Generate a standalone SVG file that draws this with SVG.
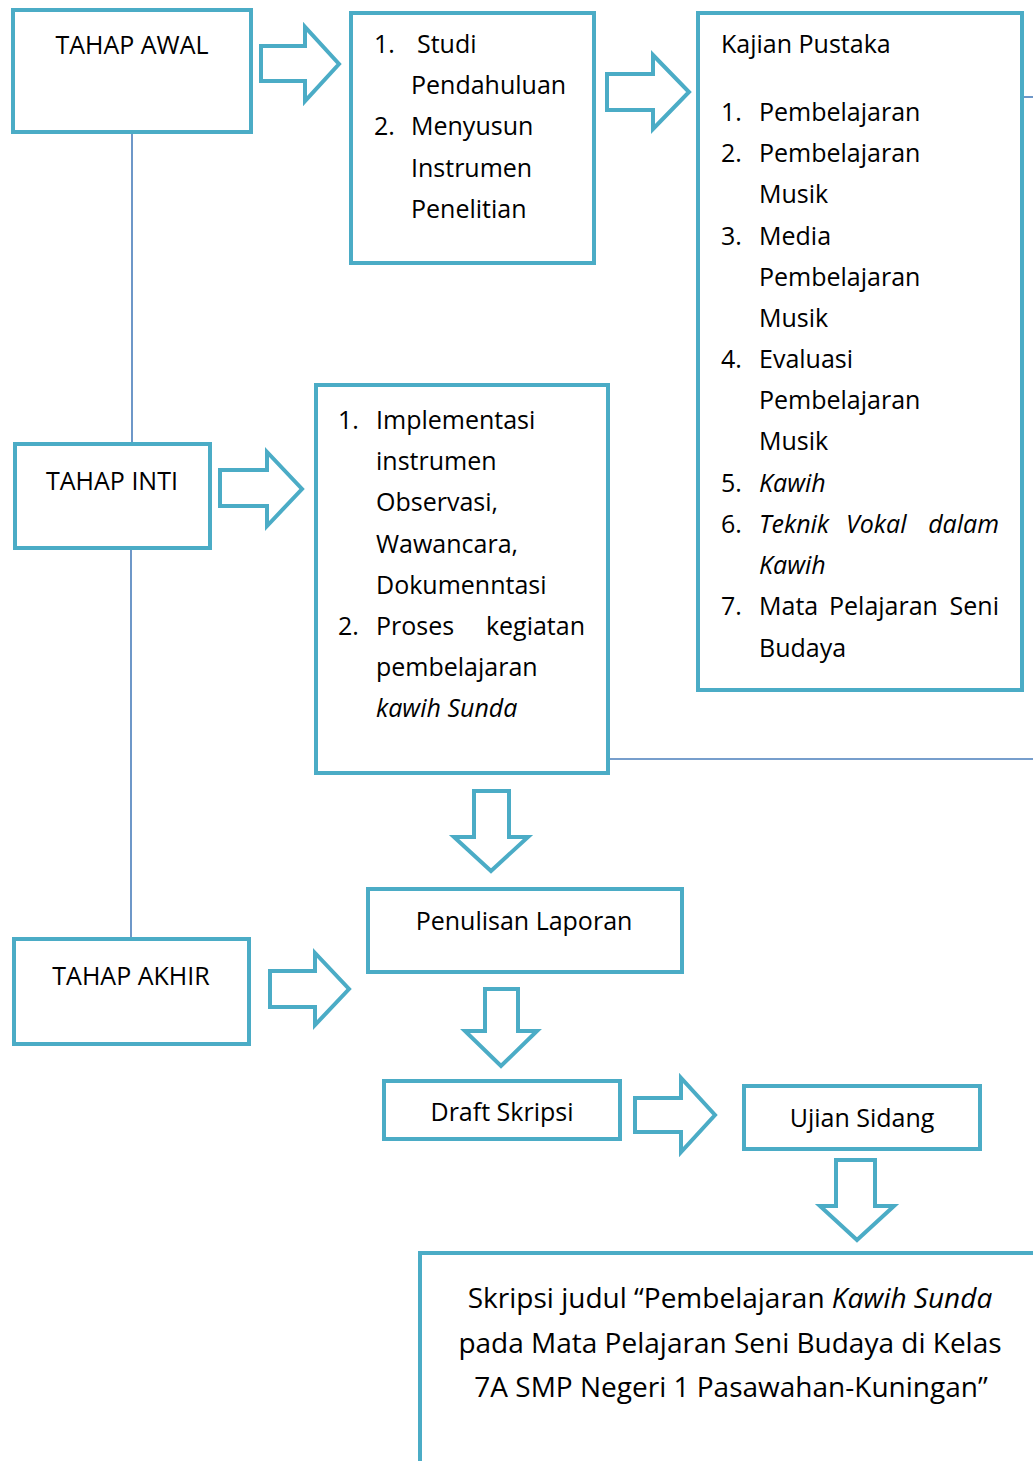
<svg xmlns="http://www.w3.org/2000/svg" width="1033" height="1461" viewBox="0 0 1033 1461">
<style>
.box{fill:#fff;stroke:#4BACC6;stroke-width:4;}
.arr{fill:#fff;stroke:#4BACC6;stroke-width:4;stroke-linejoin:miter;}
.ln{fill:none;stroke:#4A7EBB;stroke-width:1.6;}
text{font-family:"Open Sans","Noto Sans",sans-serif;font-size:25px;fill:#000;}
.c{text-anchor:middle;}
.e{text-anchor:end;}
.i{font-style:italic;}
.big{font-size:28px;}
</style>
<rect width="1033" height="1461" fill="#fff"/>
<g id="connectors">
<line class="ln" x1="132" y1="134" x2="132" y2="443"/>
<line class="ln" x1="131" y1="549" x2="131" y2="938"/>
<line class="ln" x1="1022" y1="97" x2="1033" y2="97"/>
<line class="ln" x1="610" y1="759" x2="1033" y2="759"/>
<polygon class="arr" points="261,46 305,46 305,27 339,64 305,101 305,81 261,81"/>
<polygon class="arr" points="607,74 653,74 653,55 689,92 653,129 653,110 607,110"/>
<polygon class="arr" points="220,470 267,470 267,452 302,489 267,526 267,506 220,506"/>
<polygon class="arr" points="270,971 315,971 315,953 349,989 315,1025 315,1007 270,1007"/>
<polygon class="arr" points="474,791 509,791 509,837 528,837 491,871 454,837 474,837"/>
<polygon class="arr" points="485,989 518,989 518,1031 537,1031 501,1066 465,1031 485,1031"/>
<polygon class="arr" points="635,1098 681,1098 681,1078 715,1115 681,1152 681,1132 635,1132"/>
<polygon class="arr" points="836,1160 875,1160 875,1206 894,1206 857,1240 820,1206 836,1206"/>
</g>
<g id="tahap-awal">
<rect class="box" x="13" y="10" width="238" height="122"/>
<text class="c" x="132" y="54">TAHAP AWAL</text>
</g>
<g id="studi">
<rect class="box" x="351" y="13" width="243" height="250"/>
<text x="374" y="53">1.</text><text x="417" y="53">Studi</text>
<text x="411" y="94">Pendahuluan</text>
<text x="374" y="135">2.</text><text x="411" y="135">Menyusun</text>
<text x="411" y="177">Instrumen</text>
<text x="411" y="218">Penelitian</text>
</g>
<g id="kajian-pustaka">
<rect class="box" x="698" y="13" width="324" height="677"/>
<text x="721" y="53">Kajian Pustaka</text>
<text x="721" y="121">1.</text><text x="759" y="121">Pembelajaran</text>
<text x="721" y="162">2.</text><text x="759" y="162">Pembelajaran</text>
<text x="759" y="203">Musik</text>
<text x="721" y="245">3.</text><text x="759" y="245">Media</text>
<text x="759" y="286">Pembelajaran</text>
<text x="759" y="327">Musik</text>
<text x="721" y="368">4.</text><text x="759" y="368">Evaluasi</text>
<text x="759" y="409">Pembelajaran</text>
<text x="759" y="450">Musik</text>
<text x="721" y="492">5.</text><text class="i" x="759" y="492">Kawih</text>
<text x="721" y="533">6.</text><text class="i" x="759" y="533">Teknik</text><text class="i" x="846" y="533">Vokal</text><text class="i e" x="999" y="533">dalam</text>
<text class="i" x="759" y="574">Kawih</text>
<text x="721" y="615">7.</text><text x="759" y="615">Mata</text><text x="829" y="615">Pelajaran</text><text class="e" x="999" y="615">Seni</text>
<text x="759" y="657">Budaya</text>
</g>
<g id="tahap-inti">
<rect class="box" x="15" y="444" width="195" height="104"/>
<text class="c" x="112" y="490">TAHAP INTI</text>
</g>
<g id="implementasi">
<rect class="box" x="316" y="385" width="292" height="388"/>
<text x="338" y="429">1.</text><text x="376" y="429">Implementasi</text>
<text x="376" y="470">instrumen</text>
<text x="376" y="511">Observasi,</text>
<text x="376" y="553">Wawancara,</text>
<text x="376" y="594">Dokumenntasi</text>
<text x="338" y="635">2.</text><text x="376" y="635">Proses</text><text class="e" x="585" y="635">kegiatan</text>
<text x="376" y="676">pembelajaran</text>
<text class="i" x="376" y="717">kawih Sunda</text>
</g>
<g id="tahap-akhir">
<rect class="box" x="14" y="939" width="235" height="105"/>
<text class="c" x="131" y="985">TAHAP AKHIR</text>
</g>
<g id="penulisan-laporan">
<rect class="box" x="368" y="889" width="314" height="83"/>
<text class="c" x="524" y="930">Penulisan Laporan</text>
</g>
<g id="draft-skripsi">
<rect class="box" x="384" y="1081" width="236" height="58"/>
<text class="c" x="502" y="1121">Draft Skripsi</text>
</g>
<g id="ujian-sidang">
<rect class="box" x="744" y="1086" width="236" height="63"/>
<text class="c" x="862" y="1127">Ujian Sidang</text>
</g>
<g id="skripsi-judul">
<rect class="box" x="420" y="1253" width="700" height="300"/>
<text class="c big" x="730" y="1308">Skripsi judul “Pembelajaran <tspan class="i">Kawih Sunda</tspan></text>
<text class="c big" x="730" y="1353">pada Mata Pelajaran Seni Budaya di Kelas</text>
<text class="c big" x="731" y="1397">7A SMP Negeri 1 Pasawahan-Kuningan”</text>
</g>
</svg>
